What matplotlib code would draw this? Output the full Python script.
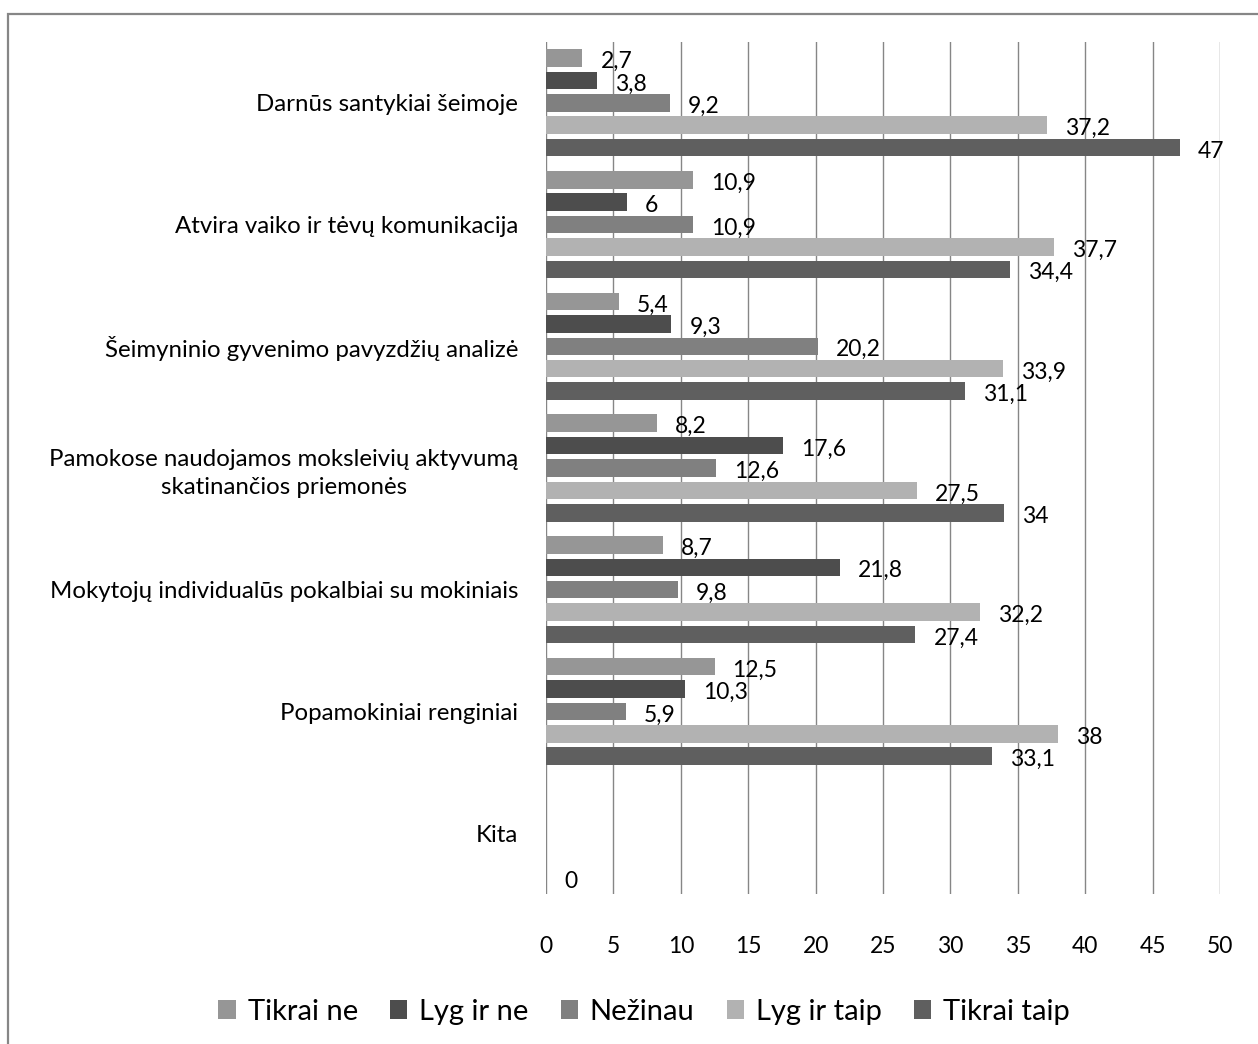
import matplotlib
matplotlib.use("Agg")
import matplotlib.pyplot as plt
import matplotlib.patches as mpatches
import numpy as np

plt.rcParams['font.family'] = ['Lato', 'DejaVu Sans']

categories = [
    "Darnūs santykiai šeimoje",
    "Atvira vaiko ir tėvų komunikacija",
    "Šeimyninio gyvenimo pavyzdžių analizė",
    "Pamokose naudojamos moksleivių aktyvumą\nskatinančios priemonės",
    "Mokytojų individualūs pokalbiai su mokiniais",
    "Popamokiniai renginiai",
    "Kita",
]
series_names = ["Tikrai ne", "Lyg ir ne", "Nežinau", "Lyg ir taip", "Tikrai taip"]
tikrai_ne   = [2.7, 10.9, 5.4, 8.2, 8.7, 12.5, np.nan]
lyg_ir_ne   = [3.8, 6, 9.3, 17.6, 21.8, 10.3, np.nan]
nezinau     = [9.2, 10.9, 20.2, 12.6, 9.8, 5.9, np.nan]
lyg_ir_taip = [37.2, 37.7, 33.9, 27.5, 32.2, 38, np.nan]
tikrai_taip = [47, 34.4, 31.1, 34, 27.4, 33.1, 0]
series = [tikrai_ne, lyg_ir_ne, nezinau, lyg_ir_taip, tikrai_taip]
colors = ["#969696", "#4d4d4d", "#808080", "#b2b2b2", "#5f5f5f"]
xticks = [0, 5, 10, 15, 20, 25, 30, 35, 40, 45, 50]

W, H = 1258, 1044
fig = plt.figure(figsize=(W / 100, H / 100), dpi=100)
ax = fig.add_axes([546 / W, 1 - 894 / H, (1220 - 546) / W, (894 - 42) / H])

y = np.arange(len(categories))
step = 0.184
bh = 0.144
handles = []
for i, (vals, c, name) in enumerate(zip(series, colors, series_names)):
    pos = y + (i - 2) * step
    b = ax.barh(pos, vals, height=bh, color=c, label=name, zorder=3)
    handles.append(b)
    for p, v in zip(pos, vals):
        if np.isnan(v):
            continue
        txt = ("%g" % v).replace(".", ",")
        ax.annotate(txt, (v, p), xytext=(13, -2.5), textcoords="offset points",
                    ha="left", va="center", fontsize=16.5, color="black", zorder=4)

ax.set_xlim(0, 50)
ax.set_ylim(len(categories) - 0.5, -0.5)
ax.set_xticks(xticks)
ax.set_xticklabels([str(t) for t in xticks], fontsize=16.5)
ax.set_yticks(y)
ax.set_yticklabels(categories, fontsize=17.3, multialignment="center",
                   linespacing=1.4)
ax.tick_params(axis="both", length=0)
ax.tick_params(axis="x", pad=30)
ax.tick_params(axis="y", pad=20)
for s in ax.spines.values():
    s.set_visible(False)
ax.grid(axis="x", color="#868686", linewidth=1.0, zorder=0)
ax.set_axisbelow(True)

fig.legend(handles=handles, labels=series_names, loc="center", ncol=5,
           bbox_to_anchor=(644 / W, 1 - 1012 / H), frameon=False, fontsize=21,
           handlelength=0.6, handleheight=0.6, handletextpad=0.4,
           columnspacing=1.1)

border = mpatches.Rectangle((8 / W, -0.1), 2, (1 - 14 / H) + 0.1,
                            transform=fig.transFigure, fill=False,
                            edgecolor="#868686", linewidth=1.6, clip_on=False)
fig.patches.append(border)

fig.savefig("out.png", dpi=100, facecolor="white")
